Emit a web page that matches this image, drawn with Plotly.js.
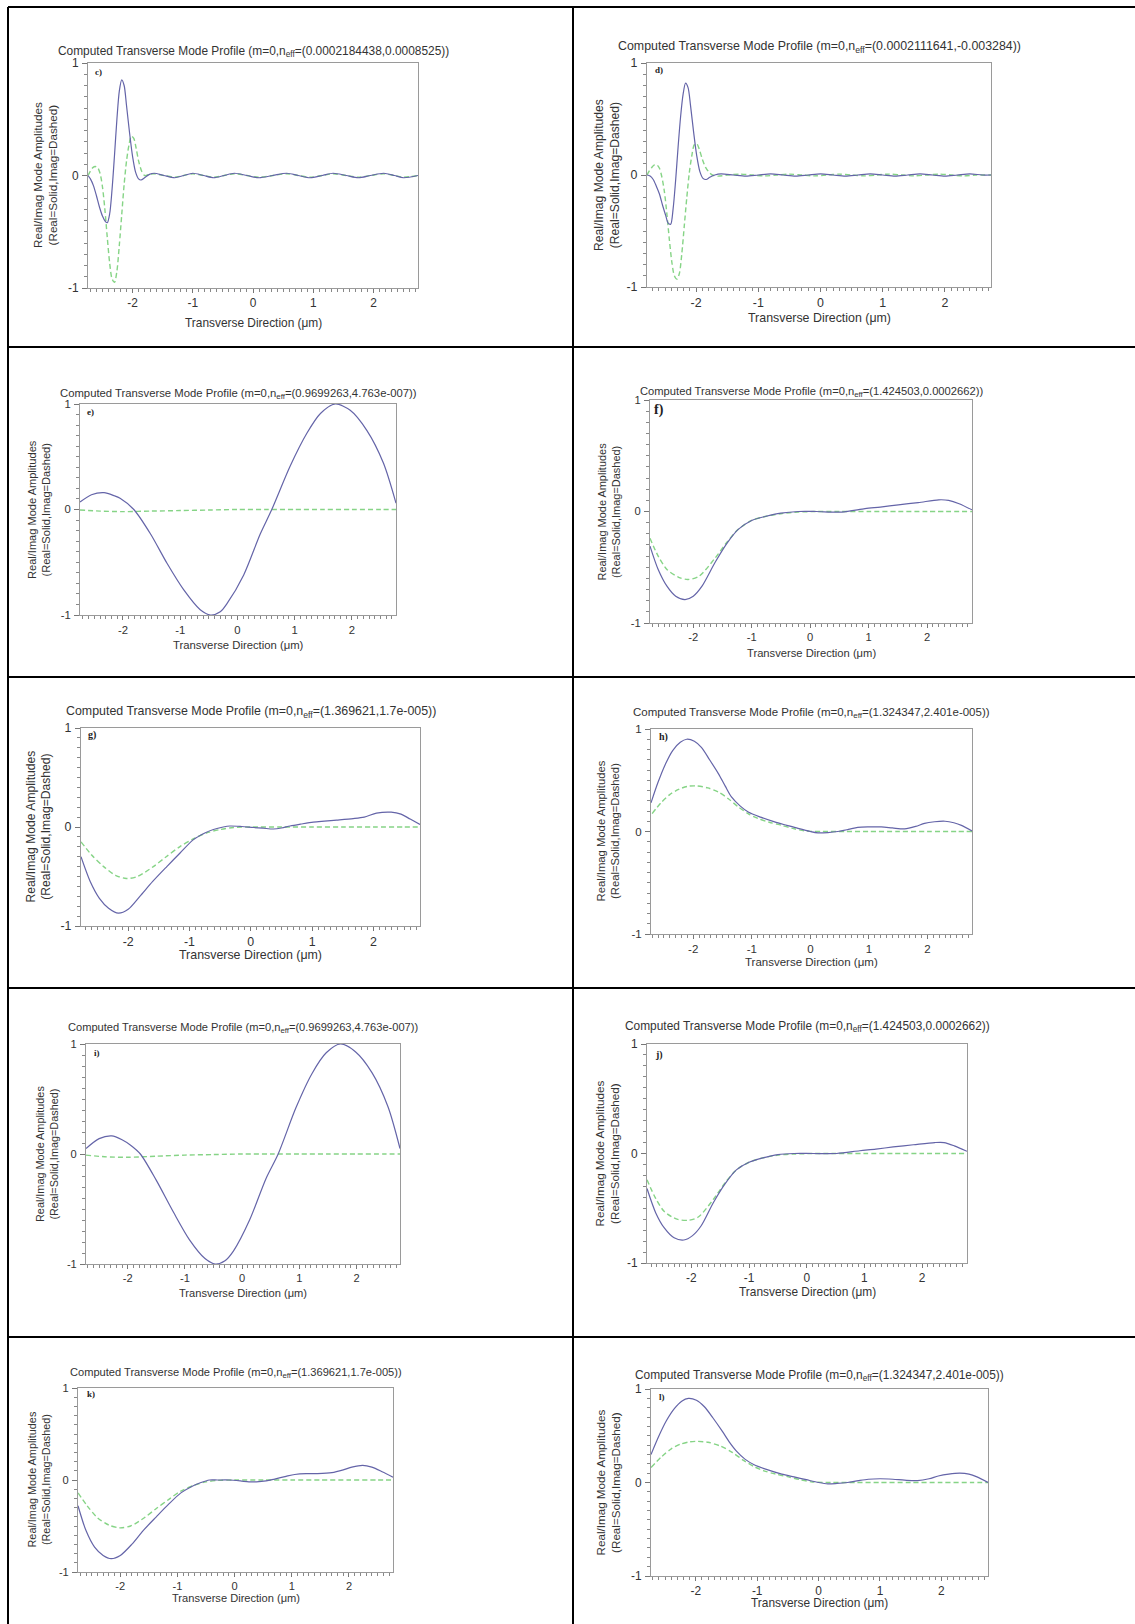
<!DOCTYPE html>
<html>
<head>
<meta charset="utf-8">
<script src="https://cdn.plot.ly/plotly-3.0.1.min.js"></script>
<style>
html,body{margin:0;padding:0;background:#fff;}
#chart{width:1135px;height:1624px;}
</style>
</head>
<body>
<div id="chart"></div>
<script>
// ---------------- DATA ----------------
const panelLetters = ['c','d','e','f','g','h','i','j','k','l'];
const neffValues = [
  '(0.0002184438,0.0008525)',
  '(0.0002111641,-0.003284)',
  '(0.9699263,4.763e-007)',
  '(1.424503,0.0002662)',
  '(1.369621,1.7e-005)',
  '(1.324347,2.401e-005)',
  '(0.9699263,4.763e-007)',
  '(1.424503,0.0002662)',
  '(1.369621,1.7e-005)',
  '(1.324347,2.401e-005)'
];
const xTickVals = [-2,-1,0,1,2];
const xTickText = ['-2','-1','0','1','2'];
const yTickVals = [-1,0,1];
const yTickText = ['-1','0','1'];

// panel c
const c_real_x = [-2.74,-2.70,-2.65,-2.60,-2.55,-2.50,-2.45,-2.42,-2.38,-2.34,-2.30,-2.26,-2.22,-2.18,-2.14,-2.10,-2.05,-2.00,-1.95,-1.90,-1.86,-1.80,-1.72,-1.64,-1.48,-1.30,-1.15,-1.00,-0.82,-0.65,-0.48,-0.31,-0.10,0.10,0.33,0.56,0.75,0.95,1.15,1.33,1.55,1.75,1.95,2.17,2.35,2.50,2.74];
const c_real_y = [0.00,-0.03,-0.09,-0.18,-0.28,-0.36,-0.41,-0.42,-0.34,-0.12,0.18,0.50,0.75,0.85,0.80,0.62,0.38,0.17,0.03,-0.03,-0.04,-0.02,0.01,0.02,0.00,-0.02,0.00,0.02,0.00,-0.02,0.00,0.02,0.00,-0.02,0.00,0.02,0.00,-0.02,0.00,0.02,0.00,-0.02,0.00,0.02,0.00,-0.02,0.00];
const c_imag_x = [-2.74,-2.70,-2.66,-2.62,-2.58,-2.54,-2.50,-2.46,-2.42,-2.38,-2.34,-2.30,-2.26,-2.22,-2.18,-2.14,-2.10,-2.06,-2.02,-1.98,-1.94,-1.90,-1.85,-1.80,-1.72,-1.64,-1.48,-1.30,-1.15,-1.00,-0.82,-0.65,-0.48,-0.31,-0.10,0.10,0.33,0.56,0.75,0.95,1.15,1.33,1.55,1.75,1.95,2.17,2.35,2.50,2.74];
const c_imag_y = [0.00,0.04,0.07,0.08,0.07,0.02,-0.10,-0.30,-0.55,-0.78,-0.92,-0.95,-0.85,-0.62,-0.35,-0.08,0.13,0.27,0.35,0.33,0.24,0.13,0.04,0.00,0.01,0.015,0.0,-0.015,0.0,0.015,0.0,-0.015,0.0,0.015,0.0,-0.015,0.0,0.015,0.0,-0.015,0.0,0.015,0.0,-0.015,0.0,0.015,0.0,-0.015,0.0];

// panel d
const d_real_x = [-2.79,-2.74,-2.69,-2.64,-2.59,-2.54,-2.49,-2.45,-2.41,-2.37,-2.33,-2.29,-2.25,-2.21,-2.17,-2.13,-2.09,-2.04,-1.99,-1.94,-1.89,-1.84,-1.78,-1.70,-1.60,-1.40,-1.20,-1.00,-0.80,-0.60,-0.40,-0.20,0.00,0.20,0.40,0.60,0.80,1.00,1.20,1.40,1.60,1.80,2.00,2.20,2.40,2.60,2.74];
const d_real_y = [0.0,-0.01,-0.04,-0.10,-0.17,-0.27,-0.36,-0.43,-0.44,-0.30,-0.05,0.25,0.52,0.72,0.82,0.78,0.62,0.38,0.17,0.03,-0.03,-0.04,-0.02,0.0,0.01,0.0,-0.01,0.0,0.01,0.0,-0.01,0.0,0.01,0.0,-0.01,0.0,0.01,0.0,-0.01,0.0,0.01,0.0,-0.01,0.0,0.01,0.0,0.0];
const d_imag_x = [-2.79,-2.75,-2.71,-2.67,-2.63,-2.59,-2.55,-2.51,-2.47,-2.43,-2.39,-2.35,-2.31,-2.27,-2.23,-2.19,-2.15,-2.11,-2.07,-2.03,-1.99,-1.95,-1.90,-1.85,-1.80,-1.74,-1.65,-1.50,-1.30,-1.10,-0.90,-0.70,-0.50,-0.30,-0.10,0.10,0.30,0.50,0.70,0.90,1.10,1.30,1.50,1.70,1.90,2.10,2.30,2.50,2.74];
const d_imag_y = [0.0,0.04,0.07,0.09,0.09,0.06,-0.02,-0.15,-0.35,-0.58,-0.78,-0.90,-0.93,-0.88,-0.70,-0.45,-0.20,0.02,0.17,0.27,0.28,0.23,0.14,0.07,0.03,0.0,-0.01,0.0,0.008,0.0,-0.008,0.0,0.008,0.0,-0.008,0.0,0.008,0.0,-0.008,0.0,0.008,0.0,-0.008,0.0,0.008,0.0,-0.008,0.0,0.0];

// panel e
const e_real_x = [-2.75,-2.55,-2.33,-2.15,-2.05,-1.81,-1.52,-1.23,-0.94,-0.65,-0.47,-0.30,-0.18,0.11,0.40,0.60,0.92,1.21,1.45,1.71,1.97,2.26,2.55,2.77];
const e_real_y = [0.07,0.14,0.16,0.13,0.106,0.0,-0.23,-0.51,-0.76,-0.95,-1.0,-0.97,-0.89,-0.62,-0.23,0.0,0.41,0.72,0.91,1.0,0.94,0.75,0.44,0.06];
const e_imag_x = [-2.75,-2.40,-2.00,-1.50,-1.00,-0.50,0.00,0.50,1.00,1.50,2.00,2.50,2.77];
const e_imag_y = [-0.005,-0.015,-0.02,-0.015,-0.01,-0.005,0.0,0.0,0.0,0.0,0.0,0.0,0.0];

// panel f
const f_real_x = [-2.74,-2.60,-2.45,-2.30,-2.14,-2.00,-1.85,-1.63,-1.43,-1.23,-1.00,-0.77,-0.50,-0.20,0.10,0.54,0.94,1.20,1.51,1.85,2.20,2.37,2.55,2.77];
const f_real_y = [-0.31,-0.52,-0.67,-0.76,-0.79,-0.76,-0.67,-0.46,-0.29,-0.16,-0.08,-0.045,-0.015,0.0,0.0,-0.005,0.025,0.04,0.06,0.08,0.105,0.10,0.07,0.015];
const f_imag_x = [-2.74,-2.60,-2.45,-2.25,-2.09,-1.90,-1.63,-1.43,-1.23,-1.00,-0.77,-0.50,-0.20,0.10,0.50,1.00,1.50,2.00,2.77];
const f_imag_y = [-0.24,-0.40,-0.52,-0.59,-0.61,-0.58,-0.42,-0.28,-0.16,-0.08,-0.045,-0.02,-0.005,0.0,0.0,0.0,0.0,0.0,0.0];

// panel g
const g_real_x = [-2.77,-2.62,-2.47,-2.32,-2.16,-2.00,-1.81,-1.60,-1.37,-1.15,-0.94,-0.75,-0.61,-0.45,-0.34,-0.15,0.04,0.20,0.37,0.50,0.64,0.82,1.02,1.20,1.40,1.67,1.85,2.05,2.29,2.45,2.60,2.76];
const g_real_y = [-0.30,-0.55,-0.72,-0.82,-0.87,-0.83,-0.70,-0.55,-0.40,-0.26,-0.13,-0.06,-0.025,0.0,0.01,0.005,-0.005,-0.012,-0.02,-0.01,0.01,0.03,0.05,0.06,0.07,0.085,0.10,0.14,0.15,0.13,0.08,0.025];
const g_imag_x = [-2.77,-2.60,-2.40,-2.20,-2.03,-1.85,-1.59,-1.38,-1.16,-0.94,-0.72,-0.50,-0.28,0.00,0.50,1.00,1.50,2.00,2.50,2.76];
const g_imag_y = [-0.15,-0.28,-0.40,-0.49,-0.52,-0.50,-0.40,-0.30,-0.20,-0.12,-0.06,-0.025,-0.005,0.0,0.0,0.0,0.0,0.0,0.0,0.0];

// panel h
const h_real_x = [-2.72,-2.60,-2.48,-2.35,-2.22,-2.11,-1.98,-1.86,-1.72,-1.57,-1.45,-1.35,-1.20,-1.06,-0.85,-0.61,-0.40,-0.21,0.00,0.13,0.30,0.47,0.65,0.81,1.00,1.21,1.40,1.61,1.80,1.95,2.12,2.30,2.45,2.58,2.76];
const h_real_y = [0.28,0.48,0.65,0.79,0.87,0.90,0.88,0.82,0.70,0.565,0.44,0.34,0.25,0.19,0.14,0.094,0.06,0.03,0.0,-0.013,-0.01,0.0,0.02,0.04,0.045,0.045,0.035,0.025,0.05,0.08,0.095,0.10,0.085,0.06,0.005];
const h_imag_x = [-2.70,-2.55,-2.40,-2.25,-2.10,-1.94,-1.75,-1.57,-1.40,-1.23,-1.05,-0.89,-0.70,-0.49,-0.30,-0.10,0.20,0.60,1.00,1.50,2.00,2.50,2.76];
const h_imag_y = [0.175,0.28,0.36,0.41,0.44,0.445,0.425,0.385,0.32,0.24,0.17,0.127,0.09,0.06,0.03,0.006,0.0,0.0,0.0,0.0,0.0,0.0,0.0];

// panel i
const i_real_x = [-2.73,-2.50,-2.28,-2.10,-1.95,-1.78,-1.50,-1.20,-0.92,-0.65,-0.47,-0.30,-0.15,0.13,0.42,0.63,0.94,1.22,1.47,1.72,1.98,2.27,2.55,2.76];
const i_real_y = [0.05,0.14,0.165,0.13,0.08,0.0,-0.24,-0.53,-0.78,-0.95,-1.0,-0.97,-0.88,-0.60,-0.22,0.0,0.42,0.73,0.92,1.0,0.93,0.74,0.43,0.05];
const i_imag_x = [-2.73,-2.40,-2.00,-1.50,-1.00,-0.50,0.00,0.50,1.00,1.50,2.00,2.50,2.76];
const i_imag_y = [-0.01,-0.025,-0.03,-0.02,-0.01,-0.005,0.0,0.0,0.0,0.0,0.0,0.0,0.0];

// panel j
const j_real_x = [-2.77,-2.62,-2.47,-2.30,-2.13,-1.98,-1.83,-1.62,-1.42,-1.22,-1.00,-0.76,-0.50,-0.22,0.10,0.52,0.92,1.20,1.50,1.85,2.22,2.38,2.56,2.78];
const j_real_y = [-0.32,-0.54,-0.68,-0.77,-0.79,-0.75,-0.66,-0.45,-0.28,-0.15,-0.08,-0.04,-0.01,0.0,0.0,0.0,0.025,0.04,0.06,0.08,0.10,0.10,0.07,0.02];
const j_imag_x = [-2.77,-2.62,-2.47,-2.25,-2.05,-1.88,-1.62,-1.42,-1.22,-1.00,-0.76,-0.50,-0.22,0.10,0.50,1.00,1.50,2.00,2.78];
const j_imag_y = [-0.24,-0.41,-0.53,-0.60,-0.61,-0.58,-0.42,-0.27,-0.15,-0.08,-0.04,-0.015,-0.005,0.0,0.0,0.0,0.0,0.0,0.0];

// panel k
const k_real_x = [-2.74,-2.60,-2.45,-2.30,-2.16,-2.00,-1.80,-1.60,-1.37,-1.15,-0.94,-0.75,-0.60,-0.44,-0.30,-0.10,0.10,0.25,0.38,0.55,0.70,0.90,1.05,1.25,1.45,1.70,1.90,2.05,2.24,2.40,2.58,2.77];
const k_real_y = [-0.28,-0.55,-0.73,-0.82,-0.855,-0.82,-0.70,-0.55,-0.40,-0.26,-0.14,-0.07,-0.03,0.0,0.0,0.0,-0.01,-0.02,-0.02,-0.01,0.01,0.04,0.06,0.07,0.07,0.08,0.11,0.14,0.16,0.14,0.09,0.03];
const k_imag_x = [-2.74,-2.58,-2.40,-2.20,-2.01,-1.82,-1.58,-1.37,-1.15,-0.94,-0.72,-0.50,-0.30,0.00,0.50,1.00,1.50,2.00,2.50,2.77];
const k_imag_y = [-0.14,-0.28,-0.41,-0.49,-0.52,-0.50,-0.41,-0.31,-0.21,-0.12,-0.06,-0.02,-0.005,0.0,0.0,0.0,0.0,0.0,0.0,0.0];

// panel l
const l_real_x = [-2.73,-2.60,-2.48,-2.35,-2.23,-2.12,-1.99,-1.86,-1.72,-1.57,-1.45,-1.33,-1.20,-1.05,-0.85,-0.60,-0.40,-0.20,0.00,0.15,0.30,0.47,0.65,0.81,1.00,1.21,1.40,1.61,1.80,1.95,2.12,2.30,2.45,2.58,2.76];
const l_real_y = [0.30,0.50,0.66,0.79,0.87,0.90,0.88,0.81,0.69,0.55,0.43,0.33,0.25,0.19,0.14,0.09,0.06,0.03,0.0,-0.015,-0.01,0.0,0.02,0.035,0.04,0.035,0.025,0.02,0.04,0.07,0.09,0.10,0.09,0.06,0.0];
const l_imag_x = [-2.73,-2.55,-2.40,-2.25,-2.10,-1.99,-1.80,-1.60,-1.40,-1.23,-1.05,-0.89,-0.70,-0.49,-0.30,-0.10,0.20,0.60,1.00,1.50,2.00,2.50,2.76];
const l_imag_y = [0.16,0.28,0.36,0.41,0.435,0.44,0.43,0.39,0.32,0.24,0.17,0.125,0.09,0.06,0.03,0.006,0.0,0.0,0.0,0.0,0.0,0.0,0.0];

const realX = [c_real_x,d_real_x,e_real_x,f_real_x,g_real_x,h_real_x,i_real_x,j_real_x,k_real_x,l_real_x];
const realY = [c_real_y,d_real_y,e_real_y,f_real_y,g_real_y,h_real_y,i_real_y,j_real_y,k_real_y,l_real_y];
const imagX = [c_imag_x,d_imag_x,e_imag_x,f_imag_x,g_imag_x,h_imag_x,i_imag_x,j_imag_x,k_imag_x,l_imag_x];
const imagY = [c_imag_y,d_imag_y,e_imag_y,f_imag_y,g_imag_y,h_imag_y,i_imag_y,j_imag_y,k_imag_y,l_imag_y];

// ---------------- LAYOUT (pixel geometry) ----------------
const W = 1135, H = 1624;
// plot boxes: [left, right, top, bottom] in px
const boxes = [
  [88,418,63,288],[647,991,63,287],
  [80,396,404,615],[650,972,400,623],
  [81,420,728,926],[651,972,729,934],
  [86,400,1044,1264],[647,967,1044,1263],
  [78,393,1388,1572],[651,988,1389,1576]
];
const xRanges = [[-2.74,2.74],[-2.79,2.74],[-2.75,2.77],[-2.74,2.77],[-2.77,2.76],[-2.72,2.76],[-2.73,2.76],[-2.77,2.78],[-2.74,2.77],[-2.73,2.76]];
const titleY = [51,47,394,392,712,713,1028,1026,1373,1375];
const titleSize = [11.9,12.4,11.3,11.2,12.4,11.5,11.1,11.9,11.1,11.9];
const xTitleY = [323,318,645,653,955,962,1293,1292,1598,1603];
const yTitleX = [45.5,607,38.5,608,38.5,608,47,606,38.5,607];
const labelPos = [[93,72],[653,70],[85,412],[652,410],[86,735],[657,737],[92,1053],[653,1055],[85,1394],[657,1397]];
const labelSize = [9,9,9,14,10,10,9,10,9,9];

const px = v => v / W;
const py = v => 1 - v / H;

const FONT = 'Liberation Sans, Arial, sans-serif';
const TXT = '#333333';
const REAL_COLOR = '#6464a8';
const IMAG_COLOR = '#86d486';

const traces = [];
const layout = {
  width: W, height: H,
  margin: {l:0, r:0, t:0, b:0},
  paper_bgcolor: '#ffffff',
  plot_bgcolor: '#ffffff',
  showlegend: false,
  font: {family: FONT, color: TXT},
  annotations: [],
  shapes: []
};

for (let p = 0; p < 10; p++) {
  const n = p === 0 ? '' : String(p + 1);
  const [L, R, T, B] = boxes[p];
  const fs = titleSize[p];
  traces.push({
    x: imagX[p], y: imagY[p], xaxis: 'x' + n, yaxis: 'y' + n,
    type: 'scatter', mode: 'lines',
    line: {color: IMAG_COLOR, width: 1.4, dash: '5px,3px', shape: 'spline', smoothing: 0.8},
    hoverinfo: 'skip'
  });
  traces.push({
    x: realX[p], y: realY[p], xaxis: 'x' + n, yaxis: 'y' + n,
    type: 'scatter', mode: 'lines',
    line: {color: REAL_COLOR, width: 1.2, shape: 'spline', smoothing: 0.8},
    hoverinfo: 'skip'
  });
  const tickFont = {family: FONT, size: fs, color: TXT};
  layout['xaxis' + n] = {
    domain: [px(L), px(R)], anchor: 'y' + n, range: xRanges[p],
    tickmode: 'array', tickvals: xTickVals, ticktext: xTickText,
    ticks: 'outside', ticklen: 4, tickcolor: '#777', tickwidth: 1,
    ticklabelstandoff: 0,
    minor: {tickmode: 'linear', tick0: 0, dtick: 0.1, ticks: 'outside', ticklen: 3, tickcolor: '#888', showgrid: false},
    showline: true, mirror: true, linecolor: '#9a9a9a', linewidth: 1,
    showgrid: false, zeroline: false, tickfont: tickFont, fixedrange: true
  };
  layout['yaxis' + n] = {
    domain: [py(B), py(T)], anchor: 'x' + n, range: [-1, 1],
    tickmode: 'array', tickvals: yTickVals, ticktext: yTickText,
    ticks: 'outside', ticklen: 5, tickcolor: '#777', tickwidth: 1,
    ticklabelstandoff: 1,
    minor: {tickmode: 'linear', tick0: 0, dtick: 0.1, ticks: 'outside', ticklen: 3, tickcolor: '#888', showgrid: false},
    showline: true, mirror: true, linecolor: '#9a9a9a', linewidth: 1,
    showgrid: false, zeroline: false, tickfont: tickFont, fixedrange: true
  };
  // chart title
  layout.annotations.push({
    xref: 'paper', yref: 'paper', x: px((L + R) / 2), y: py(titleY[p]),
    xanchor: 'center', yanchor: 'middle', showarrow: false,
    text: 'Computed Transverse Mode Profile (m=0,n<sub>eff</sub>=' + neffValues[p] + ')',
    font: {family: FONT, size: fs, color: TXT}
  });
  // x-axis title
  layout.annotations.push({
    xref: 'paper', yref: 'paper', x: px((L + R) / 2), y: py(xTitleY[p]),
    xanchor: 'center', yanchor: 'middle', showarrow: false,
    text: 'Transverse Direction (\u03bcm)',
    font: {family: FONT, size: fs, color: TXT}
  });
  // y-axis title
  layout.annotations.push({
    xref: 'paper', yref: 'paper', x: px(yTitleX[p]), y: py((T + B) / 2),
    xanchor: 'center', yanchor: 'middle', showarrow: false, textangle: -90,
    text: 'Real/Imag Mode Amplitudes<br>(Real=Solid,Imag=Dashed)',
    font: {family: FONT, size: fs * 0.98, color: TXT}
  });
  // panel letter
  layout.annotations.push({
    xref: 'paper', yref: 'paper', x: px(labelPos[p][0]), y: py(labelPos[p][1]),
    xanchor: 'left', yanchor: 'middle', showarrow: false,
    text: '<b>' + panelLetters[p] + ')</b>',
    font: {family: 'Liberation Serif, Times New Roman, serif', size: labelSize[p], color: '#222'}
  });
}

// table rules
const rule = (x0, y0, x1, y1) => ({
  type: 'line', xref: 'paper', yref: 'paper',
  x0: px(x0), y0: py(y0), x1: px(x1), y1: py(y1),
  line: {color: '#000', width: 2}
});
layout.shapes.push(rule(8, 7, 1135, 7));
layout.shapes.push(rule(8, 7, 8, 1624));
layout.shapes.push(rule(573, 7, 573, 1624));
[347, 677, 988, 1337].forEach(y => layout.shapes.push(rule(8, y, 1135, y)));

Plotly.newPlot('chart', traces, layout, {displayModeBar: false, staticPlot: true});
</script>
</body>
</html>
